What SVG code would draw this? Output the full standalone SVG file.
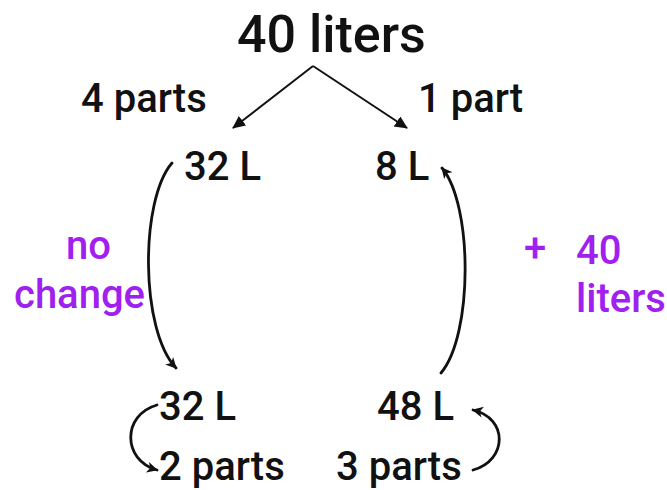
<svg xmlns="http://www.w3.org/2000/svg" width="667" height="490" viewBox="0 0 667 490">
<style>
text{font-family:Roboto,"Liberation Sans",sans-serif;font-size:40px;font-weight:500;fill:#111}
.big{font-size:52px}
.p{fill:#a020f0}
.c{fill:none;stroke:#111;stroke-width:2.8;stroke-linecap:round}
.s{fill:none;stroke:#111;stroke-width:2}
</style>
<defs>
<marker id="ah" markerUnits="userSpaceOnUse" markerWidth="16" markerHeight="16" refX="12" refY="6" orient="auto">
<path d="M0,0 L13,6 L0,12 Z" fill="#111"/>
</marker>
<marker id="ah2" markerUnits="userSpaceOnUse" markerWidth="16" markerHeight="16" refX="10" refY="5.5" orient="auto">
<path d="M0,0 L11,5.5 L0,11 L3,5.5 Z" fill="#111"/>
</marker>
</defs>
<g id="top"><text class="big" x="237" y="52">40 liters</text></g>
<g id="lbl-4parts"><text x="81" y="112">4 parts</text></g>
<g id="lbl-1part"><text x="418" y="112">1 part</text></g>
<g id="n32a"><text x="184" y="180">32 L</text></g>
<g id="n8"><text x="375" y="180">8 L</text></g>
<g id="lbl-nochange"><text class="p" x="66" y="259">no</text><text class="p" x="14" y="308">change</text></g>
<g id="lbl-plus40"><text class="p" x="524" y="262">+</text><text class="p" x="576" y="264">40</text><text class="p" x="576" y="312">liters</text></g>
<g id="n32b"><text x="159" y="420">32 L</text></g>
<g id="n48"><text x="377" y="420">48 L</text></g>
<g id="n2parts"><text x="159" y="480">2 parts</text></g>
<g id="n3parts"><text x="336" y="480">3 parts</text></g>
<g id="connectors">
<line class="s" x1="313" y1="66" x2="233" y2="128" marker-end="url(#ah)"/>
<line class="s" x1="313" y1="66" x2="407" y2="128" marker-end="url(#ah)"/>
<path class="c" d="M172,163 C140,200 140,330 176,368" marker-end="url(#ah2)"/>
<path class="c" d="M441,373 C473,335 473,205 442,168" marker-end="url(#ah2)"/>
<path class="c" d="M157,405 C122,415 122,460 157,470" marker-end="url(#ah2)"/>
<path class="c" d="M473,470 C508,460 508,418 473,410" marker-end="url(#ah2)"/>
</g>
</svg>
